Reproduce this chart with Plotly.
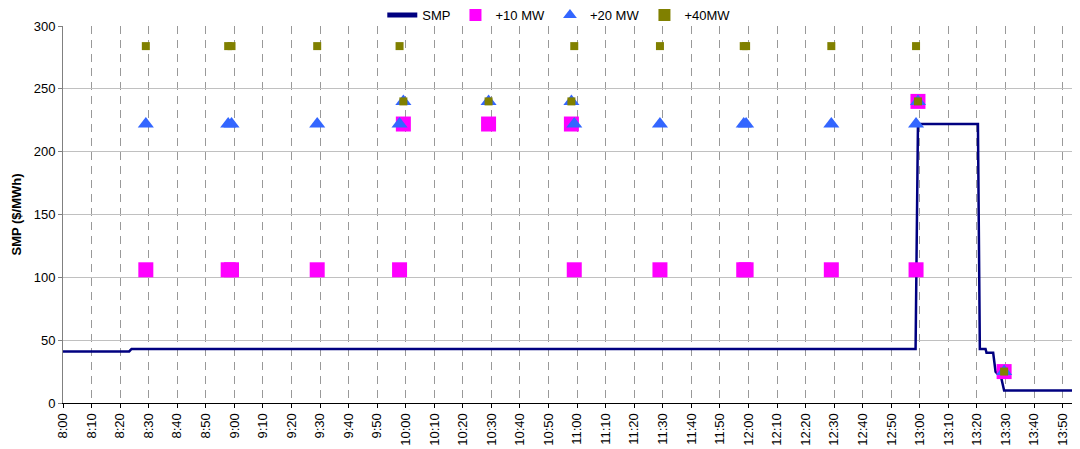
import plotly.graph_objects as go

DAY = "2000-01-01 "

# SMP price line (change points, $/MWh)
smp_times = ["08:00:00", "08:23:10", "08:24:00", "12:58:30", "12:59:20", "13:20:20",
             "13:21:00", "13:23:00", "13:23:20", "13:25:40", "13:26:30", "13:28:30",
             "13:29:30", "14:00:00"]
smp_values = [41, 41, 43, 43, 222, 222, 43, 43, 40, 40, 25, 20, 10, 10]

# dispatch run times for the sensitivity points
run_times = ["08:29:00", "08:57:50", "08:59:00", "09:29:00", "09:57:50", "09:59:10",
             "10:29:00", "10:58:00", "10:59:00", "11:29:00", "11:58:20", "11:59:10",
             "12:29:00", "12:58:40", "12:59:20", "13:29:30", "13:58:40"]
plus10 = [106, 106, 106, 106, 106, 222, 222, 222, 106, 106, 106, 106, 106, 106, 240, 25, 10]
plus20 = [222, 222, 222, 222, 222, 240, 240, 240, 222, 222, 222, 222, 222, 222, 240, 25, 10]
plus40 = [284, 284, 284, 284, 284, 240, 240, 240, 284, 284, 284, 284, 284, 284, 240, 25, 10]

FONT = "Liberation Sans, Arial, sans-serif"

fig = go.Figure()
fig.add_trace(go.Scatter(
    x=[DAY + t for t in smp_times], y=smp_values, name="SMP", mode="lines",
    line=dict(color="#000080", width=2.5)
))
fig.add_trace(go.Scatter(
    x=[DAY + t for t in run_times], y=plus10, name="+10 MW", mode="markers",
    marker=dict(symbol="square", size=15, color="#FF00FF", line=dict(width=0))
))
fig.add_trace(go.Scatter(
    x=[DAY + t for t in run_times], y=plus20, name="+20 MW", mode="markers",
    marker=dict(symbol="triangle-up", size=14, color="#3366FF", line=dict(width=0))
))
fig.add_trace(go.Scatter(
    x=[DAY + t for t in run_times], y=plus40, name="+40MW", mode="markers",
    marker=dict(symbol="square", size=8, color="#808000", line=dict(width=0))
))

# page body has an 8px margin, so the figure is 8px smaller than the window
fig.update_layout(
    width=1072, height=441,
    margin=dict(l=55, r=0, t=18, b=46, autoexpand=False),
    paper_bgcolor="white", plot_bgcolor="white",
    font=dict(family=FONT, size=13, color="black"),
    showlegend=True,
    legend=dict(orientation="h", x=0.488, xanchor="center", y=1.029, yanchor="middle",
                font=dict(size=13), itemsizing="constant", bgcolor="rgba(0,0,0,0)"),
    hovermode=False,
)
fig.update_xaxes(
    range=[DAY + "08:00:00", DAY + "13:56:04"],
    type="date", dtick=600000, tick0=DAY + "08:00:00", tickformat="%-H:%M",
    tickangle=-90, ticks="outside", ticklen=4, tickcolor="black",
    showline=True, linecolor="black", linewidth=1,
    showgrid=True, gridcolor="#999999", gridwidth=1, griddash="8px,6px",
    zeroline=False, automargin=False,
)
fig.update_yaxes(
    range=[0, 300], dtick=50, ticks="outside", ticklen=4, tickcolor="#808080",
    showline=True, linecolor="#808080", linewidth=1,
    showgrid=True, gridcolor="#C0C0C0", gridwidth=1, zeroline=False, automargin=False,
    title=dict(text="<b>SMP ($/MWh)</b>", font=dict(size=13), standoff=9),
)

fig.write_html("out.html")
